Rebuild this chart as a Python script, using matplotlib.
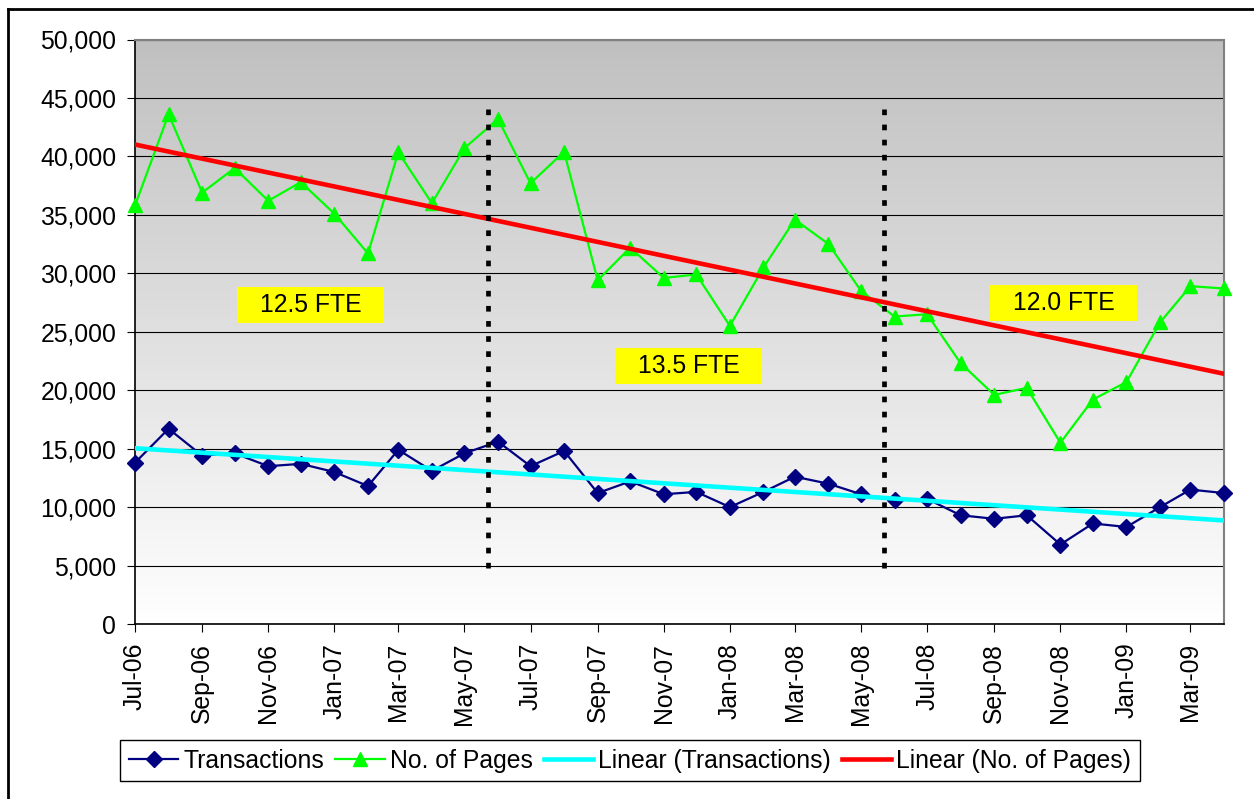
import numpy as np
import pandas as pd
import matplotlib
matplotlib.use('Agg')
import matplotlib.pyplot as plt
import matplotlib.dates as mdates
from matplotlib.lines import Line2D
from matplotlib.patches import Rectangle
from matplotlib.ticker import FuncFormatter

plt.rcParams['font.family'] = ['Liberation Sans', 'DejaVu Sans']

# monthly data, Jul-06 .. Apr-09
months = pd.date_range('2006-07-01', '2009-04-01', freq='MS')
transactions = [13800, 16700, 14400, 14600, 13500, 13700, 13000, 11800, 14900, 13100,
                14600, 15600, 13500, 14800, 11200, 12200, 11100, 11300, 10000, 11300,
                12600, 12000, 11100, 10600, 10700, 9300, 9000, 9300, 6800, 8600,
                8300, 10000, 11500, 11200]
pages = [35800, 43600, 36900, 39000, 36200, 37800, 35100, 31700, 40350, 36000,
         40700, 43200, 37700, 40400, 29400, 32200, 29600, 29900, 25500, 30500,
         34600, 32500, 28500, 26300, 26500, 22300, 19600, 20200, 15500, 19200,
         20700, 25800, 28900, 28700]

# staffing period separators and labels
split_dates = ['2007-05-23', '2008-05-22']
fte_labels = ['12.5 FTE', '13.5 FTE', '12.0 FTE']
fte_pos = [(0.1616, 0.5458), (0.5087, 0.4414), (0.853, 0.549)]

fs = 17.8

fig = plt.figure(figsize=(12.54, 7.99), dpi=100)
ax = fig.add_axes([135/1254, 1 - 624/799, (1224 - 135)/1254, (624 - 39.5)/799])

xd = mdates.date2num(months)

# gradient background of plot area
grad = np.linspace(0, 1, 256).reshape(-1, 1)
ax.imshow(grad, extent=[0, 1, 0, 1], transform=ax.transAxes, aspect='auto',
          cmap=matplotlib.colors.LinearSegmentedColormap.from_list('g', ['#c0c0c0', '#ffffff']),
          zorder=0)

ax.set_xlim(xd[0], xd[-1])
ax.set_ylim(0, 50000)
ax.set_yticks(np.arange(0, 50001, 5000))
ax.yaxis.set_major_formatter(FuncFormatter(lambda v, p: f'{int(v):,}'))
ax.grid(axis='y', color='k', lw=0.8, zorder=1)

# trend lines (least squares, like Excel's Linear trendline)
tr_t = np.polyval(np.polyfit(xd, transactions, 1), xd)
tr_p = np.polyval(np.polyfit(xd, pages, 1), xd)

l1, = ax.plot(xd, transactions, color='#000080', lw=1.6, marker='D', ms=8,
              zorder=4, clip_on=False, label='Transactions')
l2, = ax.plot(xd, pages, color='#00ff00', lw=1.6, marker='^', ms=10,
              zorder=4, clip_on=False, label='No. of Pages')
l3, = ax.plot(xd, tr_t, color='#00ffff', lw=3.3, zorder=5, label='Linear (Transactions)')
l4, = ax.plot(xd, tr_p, color='#ff0000', lw=3.3, zorder=5, label='Linear (No. of Pages)')

for d in split_dates:
    xv = mdates.date2num(pd.Timestamp(d))
    ax.plot([xv, xv], [4800, 44800], color='k', lw=3.4,
            linestyle=(0, (1.2, 2.0)), dash_capstyle='butt', zorder=6)

# yellow FTE boxes
bw, bh = 147/1089, 36/584.5
for lab, (px, py) in zip(fte_labels, fte_pos):
    ax.add_patch(Rectangle((px - bw/2, py - bh/2), bw, bh, transform=ax.transAxes,
                           facecolor='#ffff00', edgecolor='none', zorder=7))
    ax.text(px, py, lab, transform=ax.transAxes, ha='center', va='center',
            fontsize=fs, zorder=8)

ax.xaxis.set_major_locator(mdates.MonthLocator(bymonth=[1, 3, 5, 7, 9, 11]))
ax.xaxis.set_major_formatter(mdates.DateFormatter('%b-%y'))
ax.tick_params(axis='x', rotation=90, labelsize=fs, length=5.5, pad=8)
ax.tick_params(axis='y', labelsize=fs, length=5.5, pad=8)

for s in ['left', 'bottom']:
    ax.spines[s].set_color('k')
    ax.spines[s].set_linewidth(1.2)
for s in ['top', 'right']:
    ax.spines[s].set_color('#808080')
    ax.spines[s].set_linewidth(1.5)

leg = fig.legend(handles=[l1, l2, l3, l4], loc='upper center', ncol=4,
                 bbox_to_anchor=(630/1254, 1 - 740/799), fontsize=fs,
                 frameon=True, fancybox=False, edgecolor='k', framealpha=1,
                 handlelength=2.0, handletextpad=0.2, columnspacing=0.45,
                 borderpad=0.35, borderaxespad=0)
leg.get_frame().set_linewidth(1.0)

# outer chart border
fig.add_artist(Line2D([7.5/1254, 7.5/1254], [0, 1 - 8.5/799], color='k', lw=2))
fig.add_artist(Line2D([7.5/1254, 1], [1 - 8.5/799, 1 - 8.5/799], color='k', lw=2))

fig.savefig('out.png', dpi=100)
